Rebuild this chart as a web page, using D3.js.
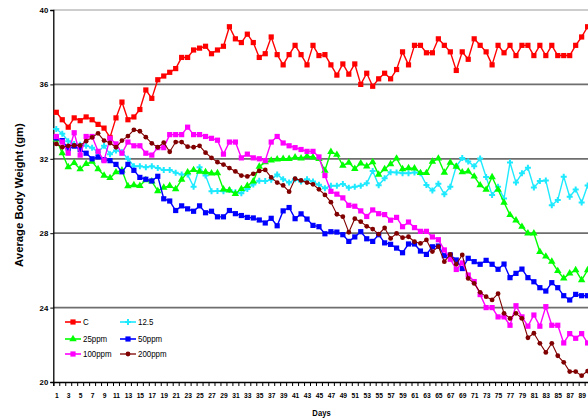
<!DOCTYPE html>
<html>
<head>
<meta charset="utf-8">
<script src="https://cdn.jsdelivr.net/npm/d3@7/dist/d3.min.js"></script>
<style>
  html, body { margin: 0; padding: 0; background: #fff; overflow: hidden; }
  svg { display: block; font-family: "Liberation Sans", Arial, Helvetica, sans-serif; }
</style>
</head>
<body>
<svg id="chart" width="588" height="420"></svg>
<script>
// Day of the study (category axis)
const days = [1,2,3,4,5,6,7,8,9,10,11,12,13,14,15,16,17,18,19,20,
  21,22,23,24,25,26,27,28,29,30,31,32,33,34,35,36,37,38,39,40,
  41,42,43,44,45,46,47,48,49,50,51,52,53,54,55,56,57,58,59,60,
  61,62,63,64,65,66,67,68,69,70,71,72,73,74,75,76,77,78,79,80,
  81,82,83,84,85,86,87,88,89,90];

// Labelled days on the x axis
const dayLabels = [1,3,5,7,9,11,13,15,17,19,21,23,25,27,29,31,33,35,37,39,
  41,43,45,47,49,51,53,55,57,59,61,63,65,67,69,71,73,75,77,79,81,83,85,87,89];

// Body weight ticks (gm)
const weightTicks = [20,24,28,32,36,40];

// Average body weight per group (gm)
const control = [34.5,34.1,33.7,34.2,34.05,34.25,34.1,33.85,33.65,33.15,
  34.2,35.05,34.1,34.25,34.65,35.7,35.25,36.25,36.45,36.65,
  36.85,37.45,37.45,37.85,37.95,38.05,37.65,37.85,38.05,39.1,
  38.45,38.25,38.7,38.25,37.45,37.65,38.55,37.6,37.05,37.6,
  38.1,37.6,37.05,38.1,37.55,37.6,37.05,36.5,37.1,36.55,
  37.1,36.0,36.6,35.9,36.3,36.6,36.3,36.8,37.75,37.05,
  38.1,38.1,37.7,37.7,38.45,38.1,37.75,36.75,37.75,37.35,
  38.45,38.1,37.75,37.05,38.1,37.7,38.1,37.55,38.1,38.1,
  37.55,38.1,37.55,38.1,37.55,37.55,37.55,38.1,38.55,39.1];

const dose12_5 = [33.6,33.35,32.95,32.8,32.75,32.7,32.6,32.35,32.7,32.25,
  32.45,32.35,32.0,31.6,31.6,31.55,31.6,31.5,31.4,31.4,
  31.25,31.15,31.15,30.5,31.55,31.1,30.25,30.27,30.25,30.32,
  30.2,30.15,30.38,30.62,30.82,30.8,30.88,31.15,30.9,30.72,
  30.9,30.78,30.9,30.78,30.6,30.42,30.55,30.55,30.65,30.45,
  30.5,30.55,30.68,31.35,30.58,30.95,31.28,31.27,31.22,31.22,
  31.27,31.22,30.59,30.3,30.66,30.1,30.5,31.6,32.04,31.85,
  31.6,32.02,31.02,30.05,30.5,29.87,31.8,30.72,31.22,31.52,
  30.46,30.81,30.83,29.5,29.79,31.04,29.96,30.35,29.65,30.56];

const dose25 = [33.05,32.3,31.55,31.78,31.45,31.73,31.85,31.45,31.1,30.97,
  31.28,31.38,30.53,30.59,30.55,30.86,30.79,30.27,30.45,30.55,
  30.37,30.88,31.28,31.4,31.31,31.29,31.22,31.23,30.36,30.3,
  30.12,30.38,30.55,30.79,31.58,31.82,31.91,31.97,32.0,32.0,
  32.08,32.03,32.14,32.08,32.0,31.37,32.38,32.22,31.64,31.8,
  31.46,31.76,31.6,31.82,31.15,31.45,31.72,32.02,31.45,31.5,
  31.49,31.24,31.24,31.85,32.02,31.26,31.8,31.58,31.28,31.32,
  31.05,30.58,30.34,31.02,30.34,29.65,28.98,28.69,28.35,27.99,
  27.99,27.0,26.75,26.47,25.97,25.57,25.84,26.02,25.48,26.02];

const dose50 = [33.12,32.98,32.55,32.68,32.5,32.3,32.0,32.1,31.95,31.9,
  31.7,31.3,31.7,31.38,31.0,30.9,30.81,31.06,29.85,29.73,
  29.22,29.47,29.31,29.18,29.47,29.1,29.18,28.88,28.88,29.22,
  29.05,28.95,28.85,28.82,28.71,28.55,28.8,28.4,29.2,29.38,
  28.78,29.04,28.76,28.42,28.35,27.97,28.08,28.06,27.92,27.56,
  27.8,28.08,27.7,27.56,27.92,27.48,27.4,27.2,26.95,27.42,
  27.42,27.04,26.86,27.27,27.31,26.79,26.83,26.56,26.1,26.65,
  26.47,26.33,26.54,26.33,26.06,26.34,25.61,25.84,26.07,25.61,
  25.39,25.07,24.89,25.34,25.07,24.64,24.41,24.71,24.64,24.64];

const dose100 = [33.2,32.9,32.3,33.4,32.2,33.2,33.2,32.4,31.9,33.1,
  32.8,32.3,32.9,32.7,32.7,32.3,32.2,32.6,32.6,33.3,
  33.3,33.3,33.7,33.3,33.3,33.2,33.1,33.0,32.25,32.9,
  32.9,32.05,32.25,32.05,32.0,31.9,32.9,33.2,32.85,32.7,
  32.6,32.5,32.4,32.4,32.1,31.1,30.25,30.1,29.9,29.5,
  29.45,29.2,28.9,29.25,29.05,29.0,28.7,28.85,28.35,28.6,
  28.3,28.1,28.1,27.8,27.65,27.1,26.6,26.05,26.4,25.75,
  25.4,24.7,24.0,24.0,23.5,23.5,23.05,24.1,23.5,23.0,
  23.6,23.0,24.05,23.05,23.05,22.1,22.6,22.35,22.6,22.1];

const dose200 = [32.8,32.62,32.7,32.72,32.72,32.95,33.15,33.37,32.98,32.85,
  32.62,32.98,33.22,33.56,33.48,33.16,32.83,32.62,32.87,32.38,
  32.9,32.9,32.65,32.62,32.7,32.33,32.05,31.82,31.69,31.5,
  31.32,31.1,31.05,31.19,31.35,31.4,31.0,30.72,30.57,30.23,
  30.93,30.84,30.72,30.63,30.36,30.06,29.67,29.02,28.89,28.05,
  28.78,28.62,28.37,28.22,27.95,28.28,27.72,27.99,27.76,27.81,
  27.54,27.45,27.64,27.01,27.28,26.47,26.86,26.33,26.83,25.57,
  25.3,24.82,24.59,24.41,24.75,23.69,23.42,23.69,23.42,22.38,
  22.62,22.08,21.59,22.08,21.41,21.06,20.56,20.56,20.34,20.59];

const groupNames = ["C", "12.5", "25ppm", "50ppm", "100ppm", "200ppm"];
const groupValues = [control, dose12_5, dose25, dose50, dose100, dose200];
const groupColors = ["#ff0000", "#1de9ff", "#00ff00", "#0000ff", "#ff00ff", "#800000"];
const groupMarkers = ["square", "cross", "triangle", "square", "square", "circle"];
const groupWidths = [1.4, 1.4, 1.4, 1.4, 1.4, 1.1];

const svg = d3.select("#chart");
const plot = { left: 53.3, right: 590.6, top: 10, bottom: 382 };

const x = d3.scaleLinear().domain([0.5, days.length + 0.5]).range([plot.left, plot.right]);
const y = d3.scaleLinear().domain([20, 40]).range([plot.bottom, plot.top]);

// horizontal gridlines
svg.append("g").selectAll("line")
  .data(weightTicks.filter(t => t > 20))
  .join("line")
  .attr("x1", plot.left).attr("x2", plot.right)
  .attr("y1", d => y(d)).attr("y2", d => y(d))
  .attr("stroke", d => d === 40 ? "#bdbdbd" : "#6e6e6e")
  .attr("stroke-width", 1.7);

// y axis
const yAxis = svg.append("g")
  .attr("transform", `translate(${plot.left},0)`)
  .call(d3.axisLeft(y).tickValues(weightTicks).tickSize(3).tickPadding(2).tickFormat(d3.format("d")));
yAxis.select(".domain").attr("stroke", "#000").attr("stroke-width", 1.3);
yAxis.selectAll(".tick line").attr("stroke", "#000");
yAxis.selectAll("text")
  .attr("font-size", 7.8).attr("font-weight", "bold").attr("fill", "#000");

// x axis: tick marks at category boundaries
const xBounds = [0, ...days].map(d => d + 0.5);
const xAxis = svg.append("g")
  .attr("transform", `translate(0,${plot.bottom})`)
  .call(d3.axisBottom(x).tickValues(xBounds).tickSize(4).tickFormat(""));
xAxis.select(".domain").attr("stroke", "#000").attr("stroke-width", 1.3);
xAxis.selectAll(".tick line").attr("stroke", "#000");

// x axis labels at category centres
const xLab = svg.append("g")
  .attr("transform", `translate(0,${plot.bottom})`)
  .call(d3.axisBottom(x).tickValues(dayLabels).tickSize(0).tickPadding(10.5).tickFormat(d3.format("d")));
xLab.select(".domain").remove();
xLab.selectAll("text")
  .attr("font-size", 7.6).attr("font-weight", "bold").attr("fill", "#000")
  .attr("transform", "scale(0.88,1)");

// axis titles
svg.append("text")
  .attr("transform", "translate(23,195) rotate(-90)")
  .attr("text-anchor", "middle")
  .attr("font-size", 11.3).attr("font-weight", "bold")
  .text("Average Body Weight (gm)");

svg.append("text")
  .attr("transform", "translate(321.5,415.5) scale(0.85,1)")
  .attr("text-anchor", "middle")
  .attr("font-size", 9).attr("font-weight", "bold")
  .text("Days");

// marker drawing helper
function drawMarker(sel, kind, color) {
  if (kind === "square") {
    sel.append("rect").attr("x", -2.6).attr("y", -2.6).attr("width", 5.2).attr("height", 5.2).attr("fill", color);
  } else if (kind === "circle") {
    sel.append("circle").attr("r", 2.4).attr("fill", color);
  } else if (kind === "triangle") {
    sel.append("path").attr("d", d3.symbol(d3.symbolTriangle, 24)()).attr("fill", color);
  } else {
    sel.append("path").attr("d", d3.symbol(d3.symbolCross, 20)()).attr("fill", color);
  }
}

// series lines + markers
const line = d3.line().x(d => x(d[0])).y(d => y(d[1]));
groupValues.forEach((vals, i) => {
  const pts = days.map((d, k) => [d, vals[k]]);
  const g = svg.append("g");
  g.append("path")
    .attr("d", line(pts))
    .attr("fill", "none")
    .attr("stroke", groupColors[i])
    .attr("stroke-width", groupWidths[i])
    .attr("stroke-linejoin", "round");
  g.selectAll("g.pt").data(pts).join("g")
    .attr("class", "pt")
    .attr("transform", d => `translate(${x(d[0])},${y(d[1])})`)
    .each(function () { drawMarker(d3.select(this), groupMarkers[i], groupColors[i]); });
});

// legend inside the plot area
const legendCols = [65, 120];
const legendRows = [322, 339, 354];
groupNames.forEach((name, i) => {
  const lx = legendCols[i % 2], ly = legendRows[Math.floor(i / 2)];
  const g = svg.append("g").attr("transform", `translate(${lx},${ly})`);
  g.append("line").attr("x1", 0).attr("x2", 16).attr("y1", 0).attr("y2", 0)
    .attr("stroke", groupColors[i]).attr("stroke-width", groupWidths[i] + 0.2);
  const m = g.append("g").attr("transform", "translate(8,0)");
  drawMarker(m, groupMarkers[i], groupColors[i]);
  g.append("text")
    .attr("transform", "translate(18,3.2) scale(0.88,1)")
    .attr("font-size", 9).attr("fill", "#000")
    .text(name);
});
</script>
</body>
</html>
